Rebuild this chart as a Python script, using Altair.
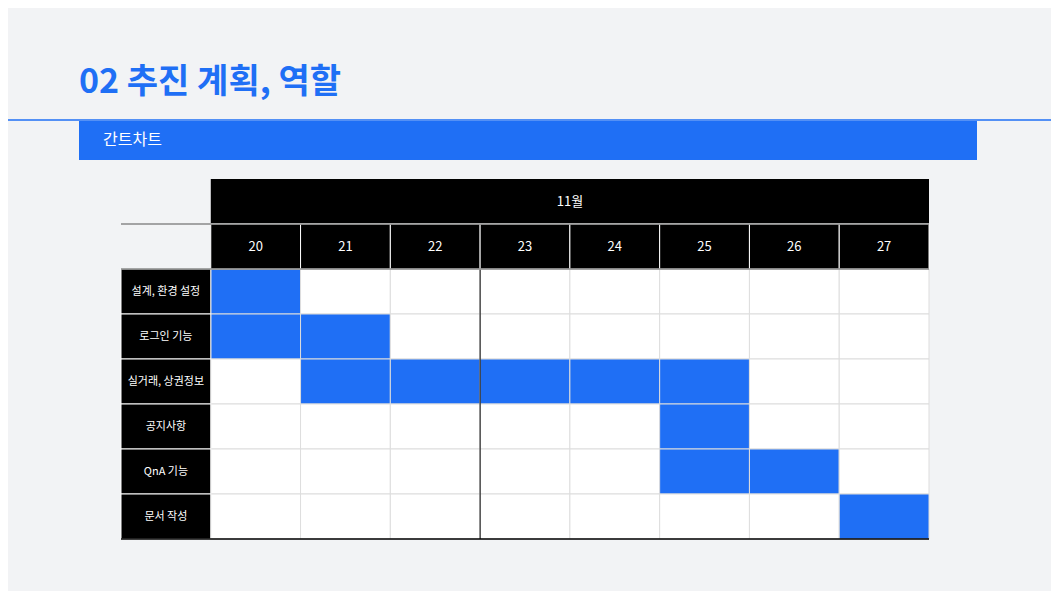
import altair as alt
import pandas as pd

days = ["20", "21", "22", "23", "24", "25", "26", "27"]
tasks = ["설계, 환경 설정", "로그인 기능", "실거래, 상권정보", "공지사항", "QnA 기능", "문서 작성"]
# active day indices per task
active = [[0], [0, 1], [1, 2, 3, 4, 5], [5], [5, 6], [7]]
month = "11월"
title = "02 추진 계획, 역할"
section = "간트차트"

BLUE = "#1f6ff5"
FONT = "Noto Sans CJK KR"

cells = pd.DataFrame([
    {"r": r, "c": c, "r2": r + 1, "c2": c + 1,
     "fill": BLUE if c in active[r] else "white"}
    for r in range(len(tasks)) for c in range(len(days))
])
labels = pd.DataFrame({"r": range(len(tasks)), "task": tasks})
labels["r2"] = labels["r"] + 1
labels["c"] = -1
labels["c2"] = 0
labels["rm"] = labels["r"] + 0.5
labels["cm"] = -0.5
heads = pd.DataFrame({"c": range(len(days)), "day": days})
heads["c2"] = heads["c"] + 1
heads["cm"] = heads["c"] + 0.5
heads["r"] = -1
heads["r2"] = 0
heads["rm"] = -0.5

xs = alt.Scale(domain=[-1, 8], nice=False, zero=False)
ys = alt.Scale(domain=[-2, 6], nice=False, zero=False, reverse=True)
X = lambda f: alt.X(f, type="quantitative", scale=xs, axis=None)
Y = lambda f: alt.Y(f, type="quantitative", scale=ys, axis=None)

grid = alt.Chart(cells).mark_rect(stroke="#dddddd", strokeWidth=1).encode(
    x=X("c"), x2="c2", y=Y("r"), y2="r2",
    fill=alt.Fill("fill:N", scale=None))
lab_rect = alt.Chart(labels).mark_rect(fill="black", stroke="white", strokeWidth=1).encode(
    x=X("c"), x2="c2", y=Y("r"), y2="r2")
lab_text = alt.Chart(labels).mark_text(color="white", fontSize=11, font=FONT).encode(
    x=X("cm"), y=Y("rm"), text="task")
head_rect = alt.Chart(heads).mark_rect(fill="black", stroke="white", strokeWidth=1).encode(
    x=X("c"), x2="c2", y=Y("r"), y2="r2")
head_text = alt.Chart(heads).mark_text(color="white", fontSize=13, font=FONT).encode(
    x=X("cm"), y=Y("rm"), text="day")
mdf = pd.DataFrame({"c": [0], "c2": [8], "r": [-2], "r2": [-1.02], "cm": [4], "rm": [-1.5], "t": [month]})
month_rect = alt.Chart(mdf).mark_rect(fill="black").encode(x=X("c"), x2="c2", y=Y("r"), y2="r2")
month_text = alt.Chart(mdf).mark_text(color="white", fontSize=13, font=FONT).encode(
    x=X("cm"), y=Y("rm"), text="t")
ldf = pd.DataFrame({"a": [-1, -1, -1], "b": [8, 8, 8], "y": [-1, 0, 6],
                    "col": ["#888888", "#888888", "black"]})
lines = alt.Chart(ldf).mark_rule(strokeWidth=1.5).encode(
    x=X("a"), x2="b", y=Y("y"), color=alt.Color("col:N", scale=None))
vdf = pd.DataFrame({"x": [3], "a": [0], "b": [6]})
vline = alt.Chart(vdf).mark_rule(color="black", strokeWidth=1).encode(x=X("x"), y=Y("a"), y2="b")

deco_title = alt.Chart(pd.DataFrame({"t": [title]})).mark_text(
    align="left", baseline="middle", fontSize=34, fontWeight="bold", color=BLUE, font=FONT
).encode(x=alt.value(-42), y=alt.value(-96), text="t")
deco_line = alt.Chart(pd.DataFrame({"a": [0]})).mark_rule(color=BLUE, strokeWidth=1.5).encode(
    x=alt.value(-121), x2=alt.value(938), y=alt.value(-59))
deco_bar = alt.Chart(pd.DataFrame({"a": [0]})).mark_rect(color=BLUE).encode(
    x=alt.value(-42), x2=alt.value(856), y=alt.value(-58), y2=alt.value(-19))
deco_sec = alt.Chart(pd.DataFrame({"t": [section]})).mark_text(
    align="left", baseline="middle", fontSize=16, color="white", font=FONT
).encode(x=alt.value(-18), y=alt.value(-39), text="t")

chart = alt.layer(
    deco_line, deco_bar, deco_sec, deco_title,
    grid, vline, lab_rect, lab_text, month_rect, month_text, head_rect, head_text, lines
).properties(
    width=808, height=360,
    padding={"left": 113, "top": 171, "right": 122, "bottom": 52},
    autosize=alt.AutoSizeParams(type="none"),
    background="#f2f3f5",
).configure_view(stroke=None)

chart.save("out.html", embed_options={"renderer": "svg", "actions": False})
